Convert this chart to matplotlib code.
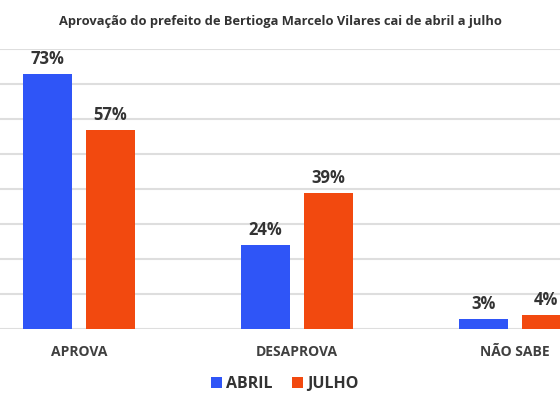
import matplotlib
matplotlib.use("Agg")
import matplotlib.pyplot as plt
import numpy as np

categories = ["APROVA", "DESAPROVA", "NÃO SABE"]
abril = [73, 24, 3]
julho = [57, 39, 4]
series_names = ["ABRIL", "JULHO"]
title = "Aprovação do prefeito de Bertioga Marcelo Vilares cai de abril a julho"

BLUE = "#2F55F7"
ORANGE = "#F2490F"
TEXT = "#333333"

plt.rcParams["font.family"] = ["Open Sans", "DejaVu Sans"]

fig = plt.figure(figsize=(5.6, 4.04), dpi=100)
W, H = 560, 404
# axes: baseline at y=329 px, 80% gridline at y=49 px
ax = fig.add_axes([0, (H - 329) / H, 1, (329 - 49) / H])

x = np.arange(len(categories))
width = 0.225
offset = 0.144
b1 = ax.bar(x - offset, abril, width, color=BLUE, label=series_names[0], zorder=3)
b2 = ax.bar(x + offset, julho, width, color=ORANGE, label=series_names[1], zorder=3)

for bars in (b1, b2):
    for rect in bars:
        v = rect.get_height()
        ax.annotate(f"{v:.0f}%", (rect.get_x() + rect.get_width() / 2, v),
                    xytext=(0, 4), textcoords="offset points",
                    ha="center", va="bottom", fontsize=12, fontweight="bold",
                    color=TEXT)

ax.set_xlim(-79 / 218, (560 - 79) / 218)
ax.set_ylim(0, 80)
ax.set_yticks(np.arange(0, 81, 10))
ax.yaxis.grid(True, color="#DEDEDE", linewidth=1.5, zorder=0)
ax.set_axisbelow(True)
ax.tick_params(axis="y", left=False, labelleft=False)
ax.tick_params(axis="x", bottom=False, pad=8)
ax.set_xticks(x)
ax.set_xticklabels(categories, fontsize=10, fontweight="bold", color="#404040")
for s in ax.spines.values():
    s.set_visible(False)

fig.text(280 / W, 1 - 21 / H, title, ha="center", va="center",
         fontsize=9.3, fontweight="bold", color=TEXT)

fig.legend(handles=[b1, b2], loc="center", bbox_to_anchor=(285 / W, 1 - 384 / H),
           ncol=2, frameon=False, handlelength=0.65, handleheight=0.65,
           handletextpad=0.3, columnspacing=1.2,
           prop={"size": 11.5, "weight": "bold"}, labelcolor=TEXT)

fig.savefig("out.png", dpi=100)
